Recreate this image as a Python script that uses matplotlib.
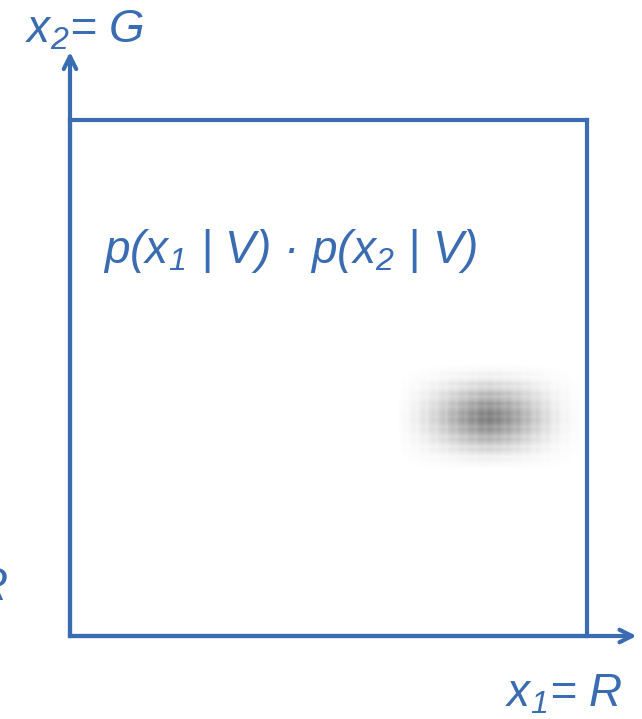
import numpy as np
import matplotlib
matplotlib.use("Agg")
import matplotlib.pyplot as plt
from matplotlib.colors import LinearSegmentedColormap

plt.rcParams["mathtext.fontset"] = "custom"
plt.rcParams["mathtext.rm"] = "Liberation Sans:italic"
plt.rcParams["mathtext.it"] = "Liberation Sans:italic"

BLUE = "#3a6cb2"

# marginal likelihoods of the class V along each feature axis (binned)
x1_range = (0.63, 0.995)
x2_range = (0.32, 0.53)
p_x1 = [0.00, 0.02, 0.05, 0.04, 0.09, 0.12, 0.10, 0.17, 0.22, 0.19,
        0.28, 0.33, 0.30, 0.40, 0.46, 0.42, 0.55, 0.60, 0.56, 0.68,
        0.74, 0.70, 0.82, 0.86, 0.80, 0.93, 0.97, 0.90, 1.00, 0.96,
        0.88, 0.94, 0.85, 0.78, 0.84, 0.74, 0.66, 0.72, 0.60, 0.52,
        0.57, 0.45, 0.38, 0.42, 0.32, 0.25, 0.29, 0.20, 0.14, 0.17,
        0.10, 0.07, 0.09, 0.05, 0.03, 0.04, 0.01, 0.00]
p_x2 = [0.00, 0.03, 0.06, 0.12, 0.10, 0.22, 0.33, 0.28, 0.45, 0.58,
        0.52, 0.70, 0.82, 0.76, 0.92, 1.00, 0.90, 0.97, 0.86, 0.74,
        0.80, 0.62, 0.50, 0.56, 0.38, 0.26, 0.31, 0.17, 0.09, 0.12,
        0.05, 0.02, 0.00]

fig = plt.figure(figsize=(6.42, 7.19), dpi=100)
ax = fig.add_axes([70 / 642, 83 / 719, 517 / 642, 516 / 719])
ax.set_xlim(0, 1)
ax.set_ylim(0, 1)
ax.set_xticks([])
ax.set_yticks([])
for s in ax.spines.values():
    s.set_color(BLUE)
    s.set_linewidth(3.0)

# joint density under the naive independence assumption
joint = np.outer(np.array(p_x2), np.array(p_x1))
cmap = LinearSegmentedColormap.from_list("grey_density", ["#ffffff", "#7c7c7c"])
ax.imshow(joint, extent=[x1_range[0], x1_range[1], x2_range[0], x2_range[1]],
          origin="lower", cmap=cmap, vmin=0, vmax=1, interpolation="bilinear",
          aspect="auto", zorder=1)

# coordinate axes with arrow heads
arrow_kw = dict(arrowstyle="->,head_length=0.9,head_width=0.45", color=BLUE,
                lw=3.0, shrinkA=0, shrinkB=0)
ax.annotate("", xy=(0, 1.132), xytext=(0, 0), xycoords="axes fraction",
            arrowprops=arrow_kw, annotation_clip=False)
ax.annotate("", xy=(1.096, 0), xytext=(0, 0), xycoords="axes fraction",
            arrowprops=arrow_kw, annotation_clip=False)

fs = 33
fig.text(25 / 642, 1 - 43 / 719, r"x$_2$= G", color=BLUE, fontsize=fs,
         family="Liberation Sans", style="italic", ha="left", va="baseline")
fig.text(505 / 642, 1 - 707 / 719, r"x$_1$= R", color=BLUE, fontsize=fs,
         family="Liberation Sans", style="italic", ha="left", va="baseline")
fig.text(8 / 642, 1 - 600 / 719, "R", color=BLUE, fontsize=fs,
         family="Liberation Sans", style="italic", ha="right", va="baseline")
fig.text(103 / 642, 1 - 263 / 719, r"p(x$_1$ | V) · p(x$_2$ | V)", color=BLUE,
         fontsize=fs, family="Liberation Sans", style="italic",
         ha="left", va="baseline")

fig.savefig("out.png", dpi=100, facecolor="white")
